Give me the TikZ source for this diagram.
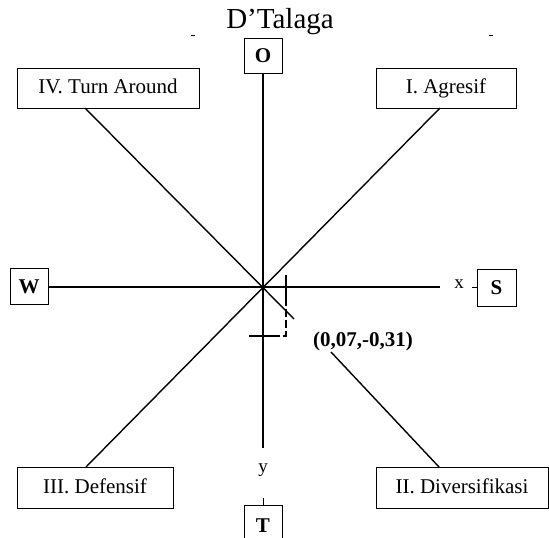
\documentclass[tikz,border=0pt]{standalone}
\usepackage{fontspec}
\setmainfont{Liberation Serif}
\usetikzlibrary{positioning}
\tikzset{
  quadbox/.style={
    draw,
    line width=0.9pt,
    inner sep=0pt,
    minimum height=40pt,
    text height=14pt,
    text depth=3pt,
    font=\fontsize{21}{24}\selectfont
  },
  dirbox/.style={
    draw,
    line width=0.9pt,
    inner sep=0pt,
    minimum width=38pt,
    minimum height=36pt,
    text height=14pt,
    text depth=0pt,
    font=\fontsize{21}{24}\selectfont\bfseries
  },
  axislbl/.style={
    inner sep=1pt,
    font=\fontsize{19}{22}\selectfont
  },
  axis/.style={
    line width=1.4pt
  },
  tickmark/.style={
    line width=2.6pt
  },
  guide/.style={
    line width=1.2pt,
    dash pattern=on 8pt off 3pt
  }
}

\begin{document}
\begin{tikzpicture}[x=1pt,y=-1pt]
    \useasboundingbox (0,0) rectangle (549,538);

    % title
    \node[anchor=base,inner sep=0pt,font=\fontsize{29}{32}\selectfont] (title) at (280,28) {D’Talaga};
    \draw[line width=1pt] (191,35) -- (195,35);
    \draw[line width=1pt] (489,35) -- (493,35);

    % direction boxes
    \node[dirbox,minimum height=35pt] (O) at (263,55.5) {O};
    \node[dirbox] (W) at (29,286) {W};
    \node[dirbox,minimum width=39pt,minimum height=37pt] (S) at (496.5,287.5) {S};
    \node[dirbox,minimum height=40pt] (T) at (263,525) {T};

    % quadrant boxes
    \node[quadbox,minimum width=182pt] (IV) at (108,88) {IV. Turn Around};
    \node[quadbox,minimum width=140pt] (I) at (446,88) {I. Agresif};
    \node[quadbox,minimum width=156pt,minimum height=41pt] (III) at (95,487.5) {III. Defensif};
    \node[quadbox,minimum width=172pt,minimum height=41pt] (II) at (462,487.5) {II. Diversifikasi};

    % axes
    \node[axislbl] (xlbl) at (459,284) {x};
    \node[axislbl] (ylbl) at (263,470) {y};
    \coordinate (xend) at (440,287);
    \coordinate (yend) at (263,448);
    \coordinate (stub) at (472,287);
    \draw[axis] (W.east |- xend) -- (xend);
    \draw[axis] (O.south) -- (yend);
    \draw[line width=1pt] (stub) -- (stub -| S.west);
    \draw[line width=1pt] (T.north) -- ++(0,-7);

    % diagonals
    \coordinate (IVfoot) at (85,108);
    \coordinate (Ifoot) at (440,108);
    \coordinate (IIIhead) at (86,467);
    \coordinate (IIhead) at (439,467);
    \coordinate (d1end) at (294,319);
    \draw[axis] (IVfoot) -- (d1end);
    \draw[axis] (Ifoot) -- (IIIhead);

    % point
    \coordinate (pt) at (286,336);
    \coordinate (px) at (286,287);
    \coordinate (py) at (263,336);
    \draw[guide] (px) -- (pt) -- (py);
    \draw[tickmark] (286,275) -- (286,299);
    \draw[tickmark] (249,336) -- (273,336);
    \node[inner sep=0pt,font=\fontsize{21}{24}\selectfont\bfseries] (ptlbl) at (363,341) {(0,07,-0,31)};
    \coordinate (lblfoot) at (331,352);
    \draw[axis] (lblfoot) -- (IIhead);
\end{tikzpicture}
\end{document}
